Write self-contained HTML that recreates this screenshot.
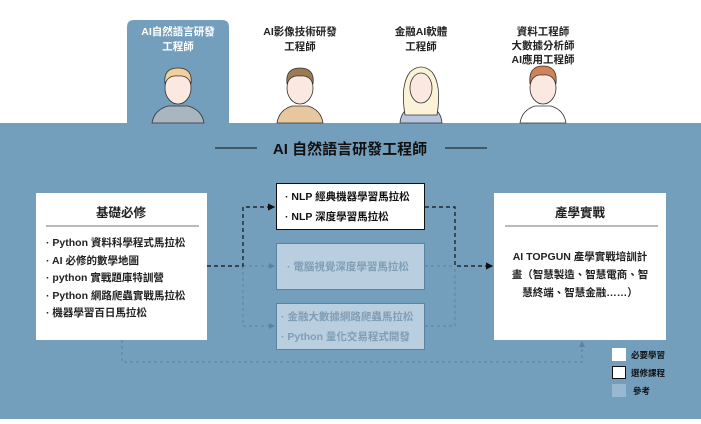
<!DOCTYPE html>
<html><head><meta charset="utf-8"><style>
body{margin:0;width:701px;height:419px;overflow:hidden;background:#fff;font-family:"Liberation Sans","Noto Sans CJK TC",sans-serif;}
</style></head><body>
<svg width="701" height="419" viewBox="0 0 701 419" xmlns="http://www.w3.org/2000/svg" style="font-family:'Liberation Sans','Noto Sans CJK TC',sans-serif;font-weight:bold">
<defs>
<marker id="ab" markerWidth="6" markerHeight="6" refX="5" refY="3" orient="auto"><path d="M0,0 L6,3 L0,6z" fill="#111"/></marker>
<marker id="ag" markerWidth="6" markerHeight="6" refX="5" refY="3" orient="auto"><path d="M0,0 L6,3 L0,6z" fill="#5a82a2"/></marker>
</defs>
<rect x="0" y="123" width="701" height="296" fill="#739fbd"/>
<path d="M127,123 V27 Q127,20 134,20 H222 Q229,20 229,27 V123z" fill="#739fbd"/>
<g font-size="10.5" text-anchor="middle">
<text x="178" y="35" fill="#fff">AI自然語言研發</text><text x="178" y="50" fill="#fff">工程師</text>
<text x="300" y="35" fill="#222">AI影像技術研發</text><text x="300" y="50" fill="#222">工程師</text>
<text x="421" y="35" fill="#222">金融AI軟體</text><text x="421" y="50" fill="#222">工程師</text>
<text x="543" y="35" fill="#222">資料工程師</text><text x="543" y="49" fill="#222">大數據分析師</text><text x="543" y="63" fill="#222">AI應用工程師</text>
</g>
<g stroke="#333" stroke-width="0.8">
<path d="M152,123 Q154,110 168,106 L188,106 Q202,110 204,123z" fill="#a9b6c0"/>
<ellipse cx="178" cy="88" rx="13" ry="16" fill="#fbe9e1"/>
<path d="M165,84 Q163,68 178,68 Q193,68 191,84 Q188,75 178,76 Q168,75 165,84z" fill="#f3cf9a"/>
<path d="M277,123 Q279,110 292,106 L308,106 Q321,110 323,123z" fill="#e9c79e"/>
<ellipse cx="300" cy="88" rx="13" ry="16" fill="#fbe9e1"/>
<path d="M287,84 Q285,68 300,68 Q315,68 313,84 Q310,75 300,76 Q290,75 287,84z" fill="#9c7b52"/>
<path d="M400,123 Q401,110 413,106 L429,106 Q441,110 442,123z" fill="#b9c7de"/>
<path d="M405,115 Q400,85 410,72 Q421,62 432,72 Q442,85 437,115z" fill="#fbf3d8"/>
<ellipse cx="421" cy="88" rx="11" ry="15" fill="#fbe9e1"/>
<path d="M520,123 Q522,110 535,106 L551,106 Q564,110 566,123z" fill="#fff"/>
<ellipse cx="543" cy="88" rx="13" ry="16" fill="#fbe9e1"/>
<path d="M530,84 Q528,66 543,66 Q558,66 556,84 Q553,74 543,75 Q533,74 530,84z" fill="#d2825a"/>
</g>
<line x1="215" y1="148" x2="257" y2="148" stroke="#111" stroke-width="1"/>
<line x1="445" y1="148" x2="487" y2="148" stroke="#111" stroke-width="1"/>
<text x="350" y="154" font-size="15" text-anchor="middle" fill="#111">AI 自然語言研發工程師</text>
<g fill="none" stroke="#5a82a2" stroke-width="1" stroke-dasharray="3,3">
<path d="M243,266 H274" marker-end="url(#ag)"/>
<path d="M243,266 V326 H274" marker-end="url(#ag)"/>
<path d="M425,266 H455 M425,326 H455 V266"/>
<path d="M122,340 V362 H582 V342" marker-end="url(#ag)"/>
</g>
<g fill="none" stroke="#111" stroke-width="1.2" stroke-dasharray="4,3">
<path d="M207,266 H243 V207 H274" marker-end="url(#ab)"/>
<path d="M425,207 H455 V266 H492" marker-end="url(#ab)"/>
</g>
<rect x="36" y="193" width="171" height="147" fill="#fff"/>
<text x="121" y="217" font-size="12.5" text-anchor="middle" fill="#222">基礎必修</text>
<line x1="46" y1="226" x2="199" y2="226" stroke="#777" stroke-width="1"/>
<g font-size="10.5" fill="#222">
<text x="46" y="246">· Python 資料科學程式馬拉松</text>
<text x="46" y="264">· AI 必修的數學地圖</text>
<text x="46" y="281">· python 實戰題庫特訓營</text>
<text x="46" y="299">· Python 網路爬蟲實戰馬拉松</text>
<text x="46" y="316">· 機器學習百日馬拉松</text>
</g>
<rect x="276.5" y="183.5" width="148" height="46" fill="#fff" stroke="#111" stroke-width="1"/>
<g font-size="10.5" fill="#111"><text x="285" y="200">· NLP 經典機器學習馬拉松</text><text x="285" y="220">· NLP 深度學習馬拉松</text></g>
<rect x="276.5" y="243.5" width="148" height="46" fill="#b9cfdf" stroke="#5a82a2" stroke-width="1"/>
<text x="287" y="270" font-size="10.5" fill="#7f9db5">· 電腦視覺深度學習馬拉松</text>
<rect x="276.5" y="303.5" width="148" height="46" fill="#b9cfdf" stroke="#5a82a2" stroke-width="1"/>
<g font-size="10.5" fill="#7f9db5"><text x="281" y="320">· 金融大數據網路爬蟲馬拉松</text><text x="281" y="340">· Python 量化交易程式開發</text></g>
<rect x="494" y="193" width="172" height="147" fill="#fff"/>
<text x="580" y="217" font-size="12.5" text-anchor="middle" fill="#222">產學實戰</text>
<line x1="505" y1="226" x2="658" y2="226" stroke="#777" stroke-width="1"/>
<g font-size="10.5" fill="#222" text-anchor="middle">
<text x="580" y="260">AI TOPGUN 產學實戰培訓計</text>
<text x="580" y="278">畫（智慧製造、智慧電商、智</text>
<text x="580" y="296">慧終端、智慧金融……）</text>
</g>
<rect x="612" y="348" width="14" height="13" fill="#fff"/>
<rect x="612.5" y="366.5" width="13" height="12" fill="#fff" stroke="#111"/>
<rect x="612" y="384" width="14" height="13" fill="#98b8cf"/>
<g font-size="8.5" fill="#111"><text x="631" y="358">必要學習</text><text x="631" y="376">選修課程</text><text x="633" y="394">參考</text></g>
</svg>
</body></html>
